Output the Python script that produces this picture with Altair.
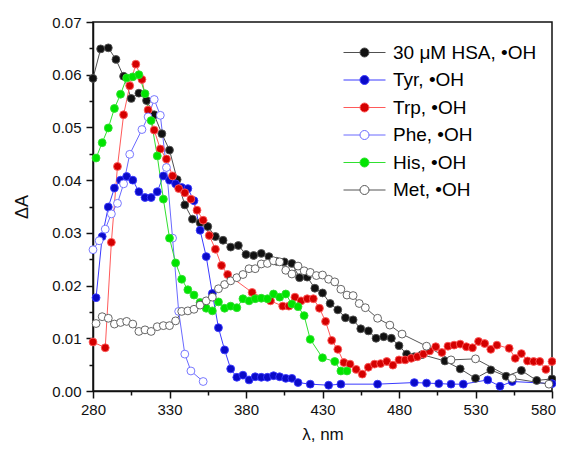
import altair as alt
import pandas as pd

series_names = ["30 \u03bcM HSA, \u2022OH", "Tyr, \u2022OH", "Trp, \u2022OH",
                "Phe, \u2022OH", "His, \u2022OH", "Met, \u2022OH"]

hsa_x = [280, 285, 290, 295, 300, 305, 310, 315, 320, 325, 330, 335, 340, 345, 350, 355,
         360, 365, 370, 375, 380, 385, 390, 395, 400, 405, 410, 415, 420, 425, 430, 435,
         440, 445, 450, 455, 460, 465, 470, 475, 480, 485, 490, 495, 510, 520, 530, 540,
         550, 560, 570, 580]
hsa_y = [0.0593, 0.0649, 0.0651, 0.0629, 0.0597, 0.0555, 0.0565, 0.0551, 0.0524, 0.0488,
         0.0457, 0.0401, 0.0353, 0.0326, 0.0319, 0.0312, 0.0293, 0.0286, 0.0273, 0.0276,
         0.0259, 0.0257, 0.0261, 0.0255, 0.0246, 0.0245, 0.0242, 0.0215, 0.0216, 0.0195,
         0.0186, 0.0166, 0.0154, 0.0139, 0.0135, 0.0118, 0.0114, 0.0100, 0.0103, 0.0100,
         0.0086, 0.0070, 0.0065, 0.0069, 0.0057, 0.0042, 0.0024, 0.0040, 0.0028, 0.0039,
         0.0020, 0.0023]

tyr_x = [282, 286, 290, 294, 298, 302, 306, 310, 314, 318, 322, 326, 330, 334, 338, 342,
         346, 350, 354, 358, 362, 366, 370, 374, 378, 382, 386, 390, 394, 398, 402, 406,
         410, 414, 422, 434, 442, 466, 490, 498, 506, 514, 522, 538, 546, 554, 580]
tyr_y = [0.0177, 0.0293, 0.0349, 0.0385, 0.0400, 0.0407, 0.0400, 0.0378, 0.0367, 0.0367,
         0.0378, 0.0408, 0.0400, 0.0393, 0.0386, 0.0384, 0.0361, 0.0305, 0.0255, 0.0185,
         0.0120, 0.0078, 0.0042, 0.0026, 0.0030, 0.0021, 0.0027, 0.0026, 0.0026, 0.0029,
         0.0027, 0.0024, 0.0024, 0.0016, 0.0013, 0.0011, 0.0013, 0.0013, 0.0016, 0.0015,
         0.0014, 0.0013, 0.0013, 0.0021, 0.0009, 0.0018, 0.0014]

trp_x = [280, 288, 292, 296, 300, 304, 308, 312, 316, 320, 324, 328, 332, 336, 340, 344,
         348, 352, 356, 360, 364, 368, 384, 396, 404, 408, 412, 416, 420, 424, 428, 432,
         436, 440, 444, 448, 452, 456, 460, 464, 468, 472, 476, 480, 484, 488, 492, 496,
         500, 504, 508, 512, 516, 520, 524, 528, 532, 536, 540, 544, 552, 556, 560, 564,
         568, 572, 576, 580]
trp_y = [0.0093, 0.0082, 0.0282, 0.0426, 0.0524, 0.0579, 0.0620, 0.0591, 0.0533, 0.0495,
         0.0459, 0.0440, 0.0408, 0.0384, 0.0376, 0.0364, 0.0343, 0.0324, 0.0295, 0.0269,
         0.0238, 0.0221, 0.0187, 0.0171, 0.0161, 0.0161, 0.0178, 0.0171, 0.0175, 0.0175,
         0.0157, 0.0132, 0.0096, 0.0079, 0.0054, 0.0051, 0.0041, 0.0032, 0.0045, 0.0051,
         0.0052, 0.0056, 0.0049, 0.0059, 0.0059, 0.0062, 0.0065, 0.0070, 0.0076, 0.0084,
         0.0073, 0.0085, 0.0087, 0.0089, 0.0084, 0.0082, 0.0094, 0.0090, 0.0079, 0.0087,
         0.0081, 0.0062, 0.0071, 0.0057, 0.0056, 0.0056, 0.0041, 0.0056]

phe_x = [280, 284, 288, 292, 296, 300, 304, 312, 316, 320, 324, 328, 332, 336, 340, 344, 352]
phe_y = [0.0268, 0.0285, 0.0307, 0.0336, 0.0356, 0.0393, 0.0449, 0.0496, 0.0520, 0.0553,
         0.0523, 0.0424, 0.0290, 0.0151, 0.0070, 0.0038, 0.0018]

his_x = [282, 286, 290, 294, 298, 302, 306, 310, 314, 318, 322, 326, 330, 334, 338, 342,
         346, 350, 354, 358, 362, 366, 370, 374, 378, 382, 386, 390, 394, 398, 402, 406,
         410, 414, 418, 422, 430, 438, 442, 446]
his_y = [0.0442, 0.0471, 0.0499, 0.0536, 0.0563, 0.0594, 0.0596, 0.0600, 0.0564, 0.0513,
         0.0446, 0.0364, 0.0290, 0.0243, 0.0212, 0.0192, 0.0182, 0.0168, 0.0157, 0.0152,
         0.0169, 0.0157, 0.0161, 0.0158, 0.0175, 0.0171, 0.0175, 0.0176, 0.0175, 0.0184,
         0.0178, 0.0184, 0.0165, 0.0160, 0.0143, 0.0098, 0.0063, 0.0056, 0.0038, 0.0038]

met_x = [282, 286, 290, 294, 298, 302, 306, 310, 314, 318, 322, 326, 330, 334, 338, 342,
         346, 350, 354, 358, 362, 366, 370, 374, 378, 382, 386, 390, 394, 398, 402, 406,
         410, 414, 418, 422, 426, 430, 434, 438, 442, 446, 450, 454, 458, 466, 474, 482,
         498, 514, 530, 554, 578]
met_y = [0.0128, 0.0141, 0.0138, 0.0127, 0.0130, 0.0132, 0.0127, 0.0113, 0.0116, 0.0113,
         0.0122, 0.0124, 0.0124, 0.0133, 0.0151, 0.0152, 0.0155, 0.0163, 0.0171, 0.0178,
         0.0194, 0.0202, 0.0209, 0.0215, 0.0221, 0.0232, 0.0232, 0.0241, 0.0242, 0.0247,
         0.0245, 0.0229, 0.0222, 0.0237, 0.0228, 0.0225, 0.0219, 0.0220, 0.0212, 0.0207,
         0.0193, 0.0182, 0.0181, 0.0166, 0.0158, 0.0138, 0.0125, 0.0108, 0.0085, 0.0059,
         0.0061, 0.0024, 0.0013]

line_colors = ["#505050", "#3a3aff", "#ff5a5a", "#6a6aff", "#30e030", "#555555"]
fill_colors = ["#111111", "#0a0ac8", "#d40000", "#ffffff", "#00e400", "#ffffff"]

all_x = [hsa_x, tyr_x, trp_x, phe_x, his_x, met_x]
all_y = [hsa_y, tyr_y, trp_y, phe_y, his_y, met_y]
rows = []
for name, xs, ys in zip(series_names, all_x, all_y):
    for xv, yv in zip(xs, ys):
        rows.append({"series": name, "wl": xv, "dA": yv})
df = pd.DataFrame(rows)

FONT = "Liberation Sans"

x_ticks = list(range(280, 581, 25))
y_ticks = [round(i * 0.005, 3) for i in range(15)]

x_enc = alt.X("wl:Q", scale=alt.Scale(domain=[280, 580], nice=False),
              axis=alt.Axis(values=x_ticks, title="\u03bb, nm", grid=False,
                            labelExpr="(datum.value - 280) % 50 == 0 ? datum.label : ''",
                            tickSize={"condition": {"test": "(datum.value - 280) % 50 == 0", "value": 7}, "value": 4},
                            labelOffset={"condition": {"test": "datum.value == 580", "value": -9}, "value": 0},
                            labelFlush=False, labelOverlap=False, labelPadding=4,
                            titleFontSize=17, titleY=48, titleBaseline="alphabetic"))
y_enc = alt.Y("dA:Q", scale=alt.Scale(domain=[0, 0.07], nice=False),
              axis=alt.Axis(values=y_ticks, title="\u0394A", grid=False,
                            labelExpr="round(datum.value * 200) % 2 == 0 ? format(datum.value, '.2f') : ''",
                            tickSize={"condition": {"test": "round(datum.value * 200) % 2 == 0", "value": 7}, "value": 4},
                            labelOverlap=False, labelPadding=5, titlePadding=20))

stroke_scale = alt.Scale(domain=series_names, range=line_colors)
fill_scale = alt.Scale(domain=series_names, range=fill_colors)

legend_path = ("M-2.1,0L-0.45,0M0.45,0L2.1,0M0.45,0"
               "A0.45,0.45,0,1,1,-0.45,0A0.45,0.45,0,1,1,0.45,0Z")
legend = alt.Legend(title=None, orient="none", legendX=261, legendY=20,
                    symbolType=legend_path, symbolSize=400, symbolStrokeWidth=1,
                    labelFontSize=19, labelFont=FONT, labelOffset=18, labelLimit=300,
                    rowPadding=6.5, padding=0)

lines = alt.Chart(df).mark_line(strokeWidth=1).encode(
    x=x_enc, y=y_enc,
    stroke=alt.Stroke("series:N", scale=stroke_scale, legend=legend),
    detail="series:N",
)
points = alt.Chart(df).mark_point(filled=True, size=62, opacity=1, strokeWidth=0.9, shape="circle").encode(
    x=x_enc, y=y_enc,
    fill=alt.Fill("series:N", scale=fill_scale, legend=legend),
    stroke=alt.Stroke("series:N", scale=stroke_scale, legend=legend),
)

chart = alt.layer(lines, points).properties(
    width=459, height=369,
    autosize=alt.AutoSizeParams(type="none"),
    padding={"left": 85, "top": 14, "right": 4, "bottom": 51},
).configure_view(
    stroke="#111111", strokeWidth=1.5
).configure_axis(
    labelFont=FONT, labelFontSize=15, labelColor="#111111",
    titleFont=FONT, titleFontSize=18, titleFontWeight="normal", titleColor="#111111",
    domainColor="#111111", domainWidth=1.5, tickColor="#111111", tickWidth=1.5,
)

chart.save("out.html", embed_options={"renderer": "svg", "actions": False})
